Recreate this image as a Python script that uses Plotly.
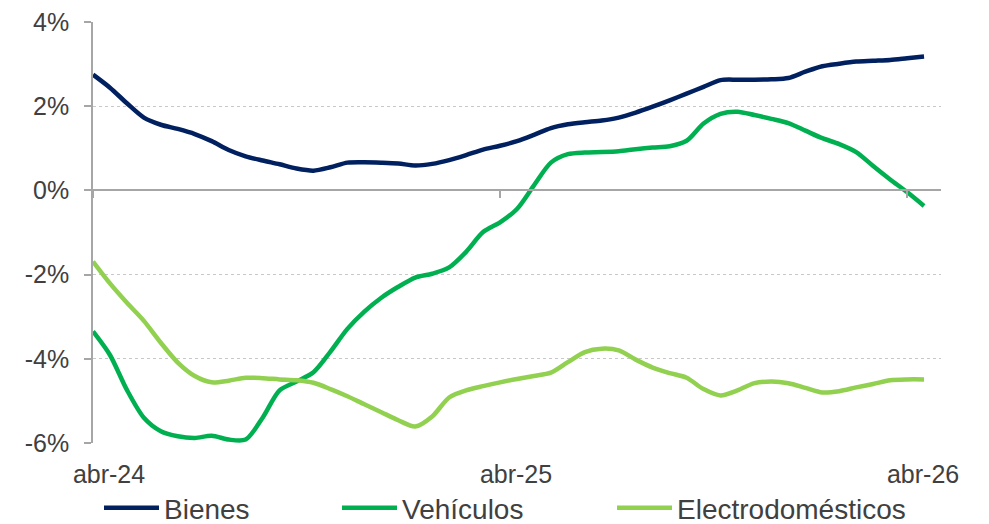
import plotly.graph_objects as go

# meses desde abr-24 (paso de medio mes)
meses = [i * 0.5 for i in range(50)]

bienes = [2.75, 2.44, 2.07, 1.73, 1.56, 1.46, 1.34, 1.17, 0.96, 0.81,
          0.71, 0.62, 0.52, 0.47, 0.55, 0.66, 0.67, 0.66, 0.64, 0.59,
          0.63, 0.72, 0.84, 0.97, 1.06, 1.17, 1.32, 1.48, 1.57, 1.62,
          1.66, 1.73, 1.85, 1.99, 2.14, 2.30, 2.46, 2.62, 2.63, 2.63,
          2.64, 2.67, 2.82, 2.95, 3.01, 3.06, 3.08, 3.10, 3.14, 3.18]

vehiculos = [-3.35, -3.91, -4.74, -5.40, -5.72, -5.84, -5.88, -5.83, -5.92, -5.92,
             -5.40, -4.75, -4.54, -4.32, -3.83, -3.29, -2.88, -2.55, -2.29, -2.07,
             -1.98, -1.83, -1.46, -0.99, -0.76, -0.44, 0.12, 0.66, 0.86, 0.90,
             0.91, 0.93, 0.98, 1.02, 1.05, 1.18, 1.59, 1.82, 1.87, 1.79,
             1.70, 1.60, 1.42, 1.24, 1.10, 0.91, 0.58, 0.26, -0.04, -0.37]

electro = [-1.69, -2.21, -2.67, -3.10, -3.62, -4.09, -4.41, -4.56, -4.52, -4.45,
           -4.46, -4.49, -4.51, -4.57, -4.72, -4.89, -5.08, -5.27, -5.46, -5.61,
           -5.37, -4.92, -4.75, -4.65, -4.56, -4.48, -4.41, -4.33, -4.08, -3.84,
           -3.76, -3.80, -4.02, -4.21, -4.34, -4.45, -4.72, -4.87, -4.75, -4.58,
           -4.54, -4.58, -4.69, -4.80, -4.77, -4.68, -4.60, -4.51, -4.49, -4.49]

x_ticks = [0, 12, 24]
x_labels = ["abr-24", "abr-25", "abr-26"]
y_ticks = [-6, -4, -2, 0, 2, 4]
y_labels = ["-6%", "-4%", "-2%", "0%", "2%", "4%"]

TXT = "#404040"
AXIS = "#a6a6a6"
FONT = "Liberation Sans, Arial, sans-serif"

# la página deja 8 px de margen en el body: la figura se ajusta a eso
W, H = 973, 516

fig = go.Figure()

series = [
    ("Bienes", bienes, "#002060", "legend"),
    ("Vehículos", vehiculos, "#00b050", "legend2"),
    ("Electrodomésticos", electro, "#92d050", "legend3"),
]
for name, vals, color, leg in series:
    fig.add_trace(go.Scatter(
        x=meses, y=vals, name=name, mode="lines",
        line=dict(color=color, width=4.5, shape="spline", smoothing=0.8),
        legend=leg, showlegend=True,
    ))

# eje auxiliar para la línea del cero con sus marcas
fig.add_trace(go.Scatter(x=[], y=[], xaxis="x2", showlegend=False, hoverinfo="skip"))

leg_common = dict(
    orientation="h", xref="container", yref="container",
    yanchor="middle", y=1 - 500 / H, xanchor="left",
    font=dict(family=FONT, size=28, color=TXT),
    itemwidth=55, bgcolor="rgba(0,0,0,0)",
)

fig.update_layout(
    width=W, height=H, showlegend=True,
    margin=dict(l=85, r=40, t=14, b=81, autoexpand=False),
    plot_bgcolor="white", paper_bgcolor="white",
    font=dict(family=FONT, size=25, color=TXT),
    xaxis=dict(
        range=[0, 25], showgrid=False, zeroline=False, showline=False,
        tickvals=x_ticks, ticktext=x_labels, ticks="",
        ticklabelshift=16, ticklabelstandoff=14, ticklabeloverflow="allow",
        tickfont=dict(family=FONT, size=25, color=TXT),
    ),
    xaxis2=dict(
        matches="x", overlaying="x", anchor="free", position=0.6,
        showline=True, linecolor=AXIS, linewidth=1.5,
        ticks="outside", ticklen=7, tickcolor=AXIS, tickwidth=1.5,
        tickvals=x_ticks, showticklabels=False, showgrid=False, zeroline=False,
    ),
    yaxis=dict(
        range=[-6.001, 4.001], tickvals=y_ticks, ticktext=y_labels,
        showline=True, linecolor=AXIS, linewidth=1.5,
        ticks="outside", ticklen=7, tickcolor=AXIS, tickwidth=1.5,
        showgrid=True, gridcolor="#c8c8c8", griddash="dot", gridwidth=1,
        zeroline=False, ticklabelstandoff=10, ticklabeloverflow="allow",
        tickfont=dict(family=FONT, size=25, color=TXT),
    ),
    legend=dict(leg_common, x=91 / W),
    legend2=dict(leg_common, x=329 / W),
    legend3=dict(leg_common, x=604 / W),
)

fig.write_html("out.html")
